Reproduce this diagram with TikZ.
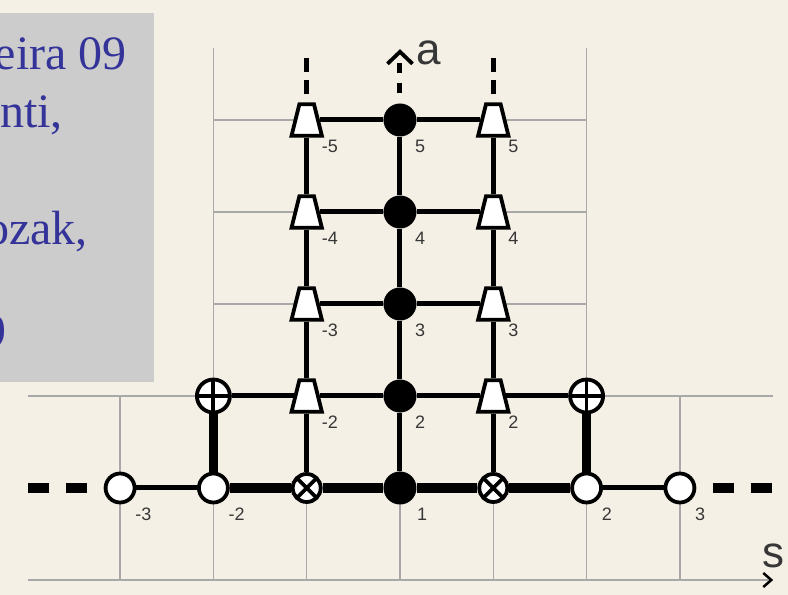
\documentclass[tikz,border=0pt]{standalone}
\usepackage{fontspec}
\usetikzlibrary{arrows.meta, positioning, shapes.geometric}
\newfontfamily\labelfont{Liberation Sans}
\newfontfamily\notefont{Liberation Serif}
\definecolor{paper}{RGB}{245,240,229}
\definecolor{boxgray}{RGB}{204,204,204}
\definecolor{noteblue}{RGB}{51,51,153}
\definecolor{gridgray}{RGB}{168,168,168}
\definecolor{labelgray}{RGB}{55,55,55}
\pgfdeclarelayer{back}
\pgfdeclarelayer{edges}
\pgfsetlayers{back,edges,main}

\begin{document}
\begin{tikzpicture}[
    x=93.3pt, y=92pt,
    grid line/.style={draw=gridgray, line width=1.2pt},
    thin link/.style={line width=5pt},
    thick link/.style={line width=9.5pt},
    open node/.style={circle, draw, fill=white, line width=3.8pt, minimum size=29pt, inner sep=0pt},
    full node/.style={circle, fill=black, minimum size=33pt, inner sep=0pt},
    trap node/.style={trapezium, draw, fill=white, line width=3.8pt, trapezium left angle=76, trapezium right angle=76, inner xsep=7.3pt, inner ysep=15.8pt},
    plus node/.style={circle, draw, fill=white, line width=3.8pt, minimum size=33pt, inner sep=0pt,
        path picture={\draw[line width=3.8pt] (path picture bounding box.north) -- (path picture bounding box.south) (path picture bounding box.west) -- (path picture bounding box.east);}},
    times node/.style={circle, draw, fill=white, line width=3.8pt, minimum size=28pt, inner sep=0pt,
        path picture={\draw[line width=3.8pt] (path picture bounding box.north west) -- (path picture bounding box.south east) (path picture bounding box.north east) -- (path picture bounding box.south west);}},
    num/.style={font=\labelfont\fontsize{18}{18}\selectfont, text=labelgray, inner sep=0pt},
    axis label/.style={font=\labelfont\fontsize{44}{44}\selectfont, text=labelgray, inner sep=0pt},
    note/.style={font=\notefont\fontsize{48}{48}\selectfont, text=noteblue, inner sep=0pt, anchor=base east}
]
    \useasboundingbox (-400pt,-15pt) rectangle (388pt,580pt);

    % Grid
    \coordinate (sStart) at (-3.99,0);
    \coordinate (sEnd) at (4,0);
    \begin{pgfonlayer}{back}
    \fill[paper] (-400pt,-15pt) rectangle (388pt,580pt);
    \draw[grid line] (-3.99,2) -- (4,2);
    \draw[grid line] (-2,3) -- (2,3);
    \draw[grid line] (-2,4) -- (2,4);
    \draw[grid line] (-2,5) -- (2,5);
    \draw[grid line] (-3,0) -- (-3,2);
    \draw[grid line] (-1,0) -- (-1,2);
    \draw[grid line] (0,0) -- (0,2);
    \draw[grid line] (1,0) -- (1,2);
    \draw[grid line] (3,0) -- (3,2);
    \draw[grid line] (-2,0) -- (-2,5.78);
    \draw[grid line] (2,0) -- (2,5.78);
    \draw[grid line, -{Straight Barb[length=8pt, width=14pt, line width=2.5pt, color=black]}] (sStart) -- (sEnd);
    \end{pgfonlayer}

    % Note box
    \fill[boxgray] (-400pt,198pt) rectangle (-246pt,567pt);
    \begin{scope}
    \clip (-400pt,198pt) rectangle (-246pt,567pt);
    \node[note] (note1) at (-273pt,510pt) {eira 09};
    \node[note] (note2) at (-337pt,452pt) {nti,};
    \node[note] (note3) at (-312pt,335pt) {ozak,};
    \node[note] (note4) at (-393pt,232pt) {9};
    \end{scope}

    % Nodes
    \node[open node] (ol3) at (-3,1) {};
    \node[open node] (ol2) at (-2,1) {};
    \node[times node] (xl) at (-1,1) {};
    \node[full node] (f1) at (0,1) {};
    \node[times node] (xr) at (1,1) {};
    \node[open node] (or2) at (2,1) {};
    \node[open node] (or3) at (3,1) {};

    \node[plus node] (pl) at (-2,2) {};
    \node[trap node] (tl2) at (-1,2) {};
    \node[full node] (f2) at (0,2) {};
    \node[trap node] (tr2) at (1,2) {};
    \node[plus node] (pr) at (2,2) {};

    \node[trap node] (tl3) at (-1,3) {};
    \node[full node] (f3) at (0,3) {};
    \node[trap node] (tr3) at (1,3) {};

    \node[trap node] (tl4) at (-1,4) {};
    \node[full node] (f4) at (0,4) {};
    \node[trap node] (tr4) at (1,4) {};

    \node[trap node] (tl5) at (-1,5) {};
    \node[full node] (f5) at (0,5) {};
    \node[trap node] (tr5) at (1,5) {};

    % Numbers
    \node[num, below right=20pt and 15pt of ol3.center] (lol3) {-3};
    \node[num, below right=20pt and 15pt of ol2.center] (lol2) {-2};
    \node[num, below right=20pt and 17pt of f1.center] (lf1) {1};
    \node[num, below right=20pt and 15pt of or2.center] (lor2) {2};
    \node[num, below right=20pt and 15pt of or3.center] (lor3) {3};
    \node[num, below right=20pt and 15pt of tl2.center] (ltl2) {-2};
    \node[num, below right=20pt and 15pt of f2.center] (lf2) {2};
    \node[num, below right=20pt and 15pt of tr2.center] (ltr2) {2};
    \node[num, below right=20pt and 15pt of tl3.center] (ltl3) {-3};
    \node[num, below right=20pt and 15pt of f3.center] (lf3) {3};
    \node[num, below right=20pt and 15pt of tr3.center] (ltr3) {3};
    \node[num, below right=20pt and 15pt of tl4.center] (ltl4) {-4};
    \node[num, below right=20pt and 15pt of f4.center] (lf4) {4};
    \node[num, below right=20pt and 15pt of tr4.center] (ltr4) {4};
    \node[num, below right=20pt and 15pt of tl5.center] (ltl5) {-5};
    \node[num, below right=20pt and 15pt of f5.center] (lf5) {5};
    \node[num, below right=20pt and 15pt of tr5.center] (ltr5) {5};

    % Open ends
    \coordinate (rowL) at (-3.99,1);
    \coordinate (rowR) at (4,1);
    \coordinate (tlEnd) at (-1,5.68);
    \coordinate (trEnd) at (1,5.68);
    \coordinate (aTip) at (0,5.77);
    \node[axis label, right=16pt of aTip, yshift=-4pt] (alab) {a};
    \node[axis label, above=12pt of sEnd] (slab) {s};

    % Edges
    \begin{pgfonlayer}{edges}
    \draw[thin link] (ol3) -- (ol2);
    \draw[thick link] (ol2) -- (xl) -- (f1) -- (xr) -- (or2);
    \draw[thin link] (or2) -- (or3);
    \draw[thick link] (pl) -- (ol2);
    \draw[thick link] (pr) -- (or2);
    \draw[thin link] (pl) -- (tl2) -- (f2) -- (tr2) -- (pr);
    \draw[thin link] (tl3) -- (f3) -- (tr3);
    \draw[thin link] (tl4) -- (f4) -- (tr4);
    \draw[thin link] (tl5) -- (f5) -- (tr5);
    \draw[thin link] (xl) -- (tl2) -- (tl3) -- (tl4) -- (tl5);
    \draw[thin link] (f1) -- (f2) -- (f3) -- (f4) -- (f5);
    \draw[thin link] (xr) -- (tr2) -- (tr3) -- (tr4) -- (tr5);
    \draw[thick link, dash pattern=on 21pt off 17pt, dash phase=21pt] (ol3) -- (rowL);
    \draw[thick link, dash pattern=on 21pt off 17pt, dash phase=21pt] (or3) -- (rowR);
    \draw[thin link, dash pattern=on 14pt off 8pt, dash phase=14pt] (tl5) -- (tlEnd);
    \draw[thin link, dash pattern=on 14pt off 8pt, dash phase=14pt] (tr5) -- (trEnd);
    \draw[thin link, dash pattern=on 10pt off 10pt, dash phase=10pt, -{Straight Barb[length=12pt, width=25pt, line width=3.8pt]}] (f5) -- (aTip);
    \end{pgfonlayer}
\end{tikzpicture}
\end{document}
